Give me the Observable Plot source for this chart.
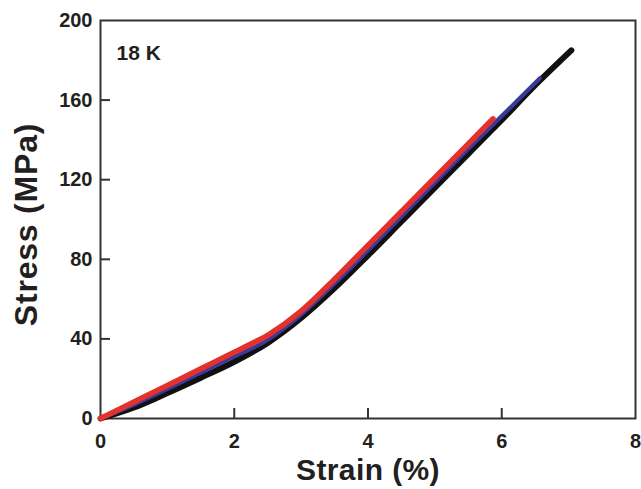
<!DOCTYPE html>
<html>
<head>
<meta charset="utf-8">
<script src="https://cdn.jsdelivr.net/npm/d3@7"></script>
<script src="https://cdn.jsdelivr.net/npm/@observablehq/plot@0.6"></script>
<style>
  html, body { margin: 0; padding: 0; background: #fff; }
</style>
</head>
<body>
<div id="chart"></div>
<script>
// Stress–strain curves at 18 K (three samples)
const blackStrain = [0, 0.5, 1, 1.5, 2, 2.5, 3, 3.5, 4, 4.5, 5, 5.5, 5.87, 6, 6.5, 7.04];
const blackStress = [0, 5.5, 12.8, 20.5, 28.5, 38, 50.5, 65.5, 82, 99, 116, 133, 145.6, 150, 167.5, 185];

const blueStrain = [0, 0.5, 1, 1.5, 2, 2.3, 2.5, 3, 3.5, 4, 4.5, 5, 5.5, 6, 6.57];
const blueStress = [0, 7, 14.8, 23, 31.2, 35.8, 39.5, 52.2, 67.8, 84.5, 101.5, 118.5, 135.5, 152, 171];

const redStrain = [0, 0.5, 1, 1.5, 2, 2.3, 2.5, 3, 3.5, 4, 4.5, 5, 5.5, 5.87];
const redStress = [0, 8.3, 16.6, 25, 33.3, 38.3, 41.8, 54, 70, 87, 104, 121, 138, 150.6];

const xTickLabels = [0, 2, 4, 6, 8];
const yTickLabels = [0, 40, 80, 120, 160, 200];
const xInnerTicks = [2, 4, 6];
const yInnerTicks = [40, 80, 120, 160];
const annotation = "18 K";
const xTitle = "Strain (%)";
const yTitle = "Stress (MPa)";

const toRows = (xs, ys) => xs.map((x, i) => ({x, y: ys[i]}));
const black = toRows(blackStrain, blackStress);
const blue = toRows(blueStrain, blueStress);
const red = toRows(redStrain, redStress);

const ink = "#231f20";
const font = "Liberation Sans, Arial, Helvetica, sans-serif";

const chart = Plot.plot({
  width: 641,
  height: 489,
  marginLeft: 100,
  marginRight: 6,
  marginTop: 20,
  marginBottom: 71,
  style: {fontFamily: font, color: ink, background: "#fff"},
  x: {domain: [0, 8]},
  y: {domain: [0, 200]},
  marks: [
    Plot.axisX(xTickLabels, {tickSize: 0, tickPadding: 15, fontSize: 20, fontWeight: "bold", fill: ink, label: null}),
    Plot.axisY(yTickLabels, {tickSize: 0, tickPadding: 8, fontSize: 20, fontWeight: "bold", fill: ink, label: null}),
    Plot.ruleX(xInnerTicks, {x: d => d, y1: 0, y2: 5, stroke: "#333", strokeWidth: 2}),
    Plot.ruleY(yInnerTicks, {y: d => d, x1: 0, x2: 0.15, stroke: "#333", strokeWidth: 2}),
    Plot.frame({stroke: "#333", strokeWidth: 2}),
    Plot.line(black, {x: "x", y: "y", stroke: "#111", strokeWidth: 6, curve: "catmull-rom"}),
    Plot.line(blue, {x: "x", y: "y", stroke: "#3b3a9c", strokeWidth: 4, curve: "catmull-rom"}),
    Plot.line(red, {x: "x", y: "y", stroke: "#e1322b", strokeWidth: 5.5, curve: "catmull-rom"}),
    Plot.text([annotation], {x: 0.24, y: 180, text: d => d, textAnchor: "start", lineAnchor: "bottom", fontSize: 21, fontWeight: "bold", fill: ink}),
    Plot.text([xTitle], {frameAnchor: "bottom", text: d => d, dy: 52, textAnchor: "middle", lineAnchor: "middle", fontSize: 30, fontWeight: "bold", fill: ink}),
    Plot.text([yTitle], {frameAnchor: "left", text: d => d, dx: -74, dy: 5, rotate: -90, textAnchor: "middle", lineAnchor: "middle", fontSize: 32, fontWeight: "bold", fill: ink})
  ]
});
// slight letter spacing on the axis titles, as in the original
chart.querySelectorAll("text").forEach(t => {
  if (t.textContent === yTitle) t.setAttribute("letter-spacing", "0.8");
  if (t.textContent === xTitle) t.setAttribute("letter-spacing", "0.4");
});
document.getElementById("chart").appendChild(chart);
</script>
</body>
</html>
